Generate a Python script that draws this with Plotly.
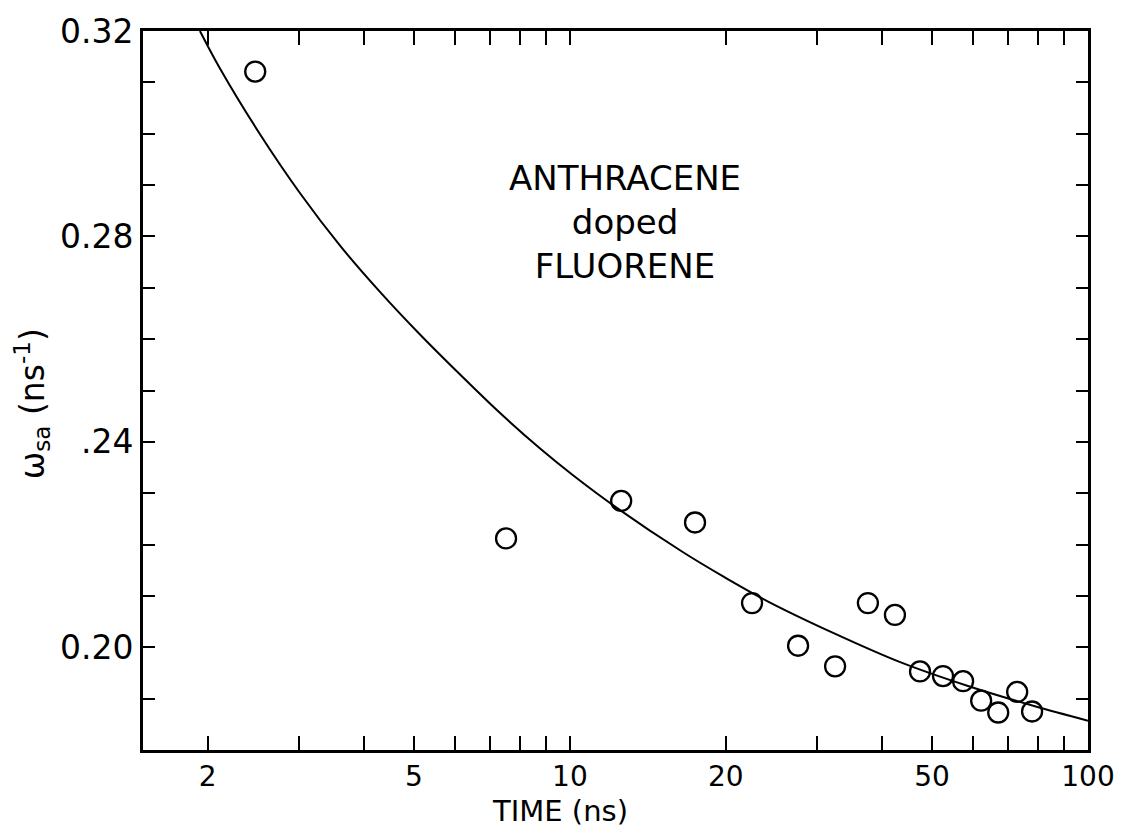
import plotly.graph_objects as go

# Measured data points (time in ns, w_sa in ns^-1)
time_ns = [2.47, 7.53, 12.56, 17.44, 22.47, 27.57, 32.5, 37.6, 42.4, 47.4, 52.5, 57.4, 62.2, 67.1, 73.0, 78.0]
w_sa = [0.3121, 0.2212, 0.2285, 0.2243, 0.2086, 0.2003, 0.1963, 0.2086, 0.2063, 0.1953, 0.1944, 0.1934, 0.1896, 0.1873, 0.1913, 0.1875]

# Fitted curve
curve_t = [1.932, 2.112, 2.523, 3.015, 3.601, 4.300, 5.137, 6.139, 7.333, 8.760, 10.14, 12.34, 16.54, 19.76, 24.03, 32.22, 43.41, 58.47, 78.39, 100.0]
curve_w = [0.3200, 0.3127, 0.2999, 0.2884, 0.2782, 0.2692, 0.2609, 0.2531, 0.2456, 0.2387, 0.2335, 0.2271, 0.2185, 0.2138, 0.2090, 0.2028, 0.1971, 0.1925, 0.1886, 0.1857]

x_tickvals = [2, 3, 4, 5, 6, 7, 8, 9, 10, 20, 30, 40, 50, 60, 70, 80, 90, 100]
x_ticktext = ["2", "", "", "5", "", "", "", "", "10", "20", "", "", "50", "", "", "", "", "100"]
y_tickvals = [0.18, 0.19, 0.20, 0.21, 0.22, 0.23, 0.24, 0.25, 0.26, 0.27, 0.28, 0.29, 0.30, 0.31, 0.32]
y_ticktext = ["", "", "0.20", "", "", "", ".24", "", "", "", "0.28", "", "", "", "0.32"]

FONT = "DejaVu Sans"

fig = go.Figure()
fig.add_trace(go.Scatter(
    x=curve_t, y=curve_w, mode="lines",
    line=dict(color="black", width=2, shape="spline", smoothing=1.0),
    showlegend=False, hoverinfo="skip"))
fig.add_trace(go.Scatter(
    x=time_ns, y=w_sa, mode="markers",
    marker=dict(symbol="circle-open", size=20, color="black", line=dict(width=2.3, color="black")),
    showlegend=False))

fig.update_layout(
    width=1140, height=830,
    margin=dict(l=143, r=52, t=22, b=80),
    paper_bgcolor="white", plot_bgcolor="white",
    font=dict(family=FONT, size=33, color="black"),
    xaxis=dict(
        type="log", range=[0.1761, 2.0],
        tickmode="array", tickvals=x_tickvals, ticktext=x_ticktext,
        ticks="inside", ticklen=14, tickwidth=2, tickcolor="black",
        showline=True, linecolor="black", linewidth=2.5, mirror="allticks",
        showgrid=False, zeroline=False, ticklabelstandoff=0,
        tickfont=dict(family=FONT, size=28, color="black"),
    ),
    yaxis=dict(
        range=[0.18, 0.32],
        tickmode="array", tickvals=y_tickvals, ticktext=y_ticktext,
        ticks="inside", ticklen=12, tickwidth=2, tickcolor="black",
        showline=True, linecolor="black", linewidth=3, mirror="allticks",
        showgrid=False, zeroline=False,
        tickfont=dict(family=FONT, size=33, color="black"),
    ),
    annotations=[
        dict(text="ANTHRACENE<br>doped<br>FLUORENE", xref="paper", yref="paper",
             x=(625 - 143) / 945, y=(750 - 215) / 728, xanchor="center", yanchor="middle",
             showarrow=False, font=dict(family=FONT, size=34, color="black"), align="center"),
        dict(text="TIME (ns)", xref="paper", yref="paper",
             x=(560 - 143) / 945, y=(750 - 830) / 728, xanchor="center", yanchor="bottom",
             borderpad=0, showarrow=False, font=dict(family=FONT, size=29, color="black")),
        dict(text="ω<sub>sa</sub> (ns<sup>-1</sup>)", xref="paper", yref="paper",
             x=(32 - 143) / 945, y=(750 - 400) / 728, xanchor="center", yanchor="middle",
             showarrow=False, textangle=-90,
             font=dict(family=FONT, size=33, color="black")),
    ],
)

fig.write_html("out.html")
